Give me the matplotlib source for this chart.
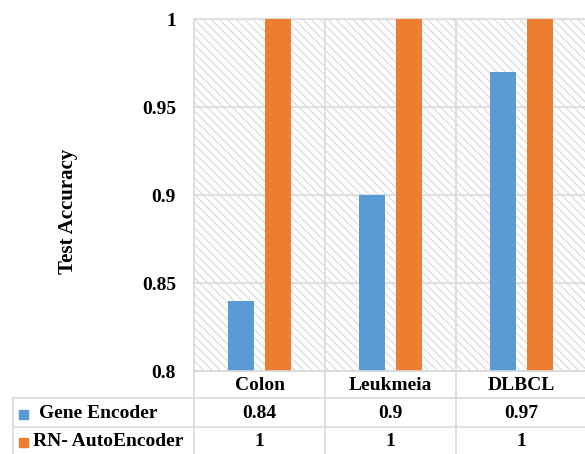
import matplotlib
matplotlib.use('Agg')
import matplotlib.pyplot as plt
import matplotlib.transforms as mtransforms
from matplotlib.lines import Line2D
from matplotlib.patches import Rectangle
import numpy as np

datasets = ['Colon', 'Leukmeia', 'DLBCL']
gene_encoder = [0.84, 0.9, 0.97]
rn_autoencoder = [1, 1, 1]
series_names = ['Gene Encoder', 'RN- AutoEncoder']
y_ticks = [0.8, 0.85, 0.9, 0.95, 1]
y_tick_labels = ['0.8', '0.85', '0.9', '0.95', '1']

blue = '#5B9BD5'
orange = '#ED7D31'
grid = '#D9D9D9'

plt.rcParams['font.family'] = ['Liberation Serif', 'DejaVu Serif']
plt.rcParams['font.weight'] = 'bold'
plt.rcParams['hatch.linewidth'] = 0.7

W, H = 585, 454
fig = plt.figure(figsize=(W / 100, H / 100), dpi=100)


def fx(x):
    return x / W


def fy(y):
    return 1 - y / H


# plot area runs a little past the right edge of the figure
ax = fig.add_axes([fx(194), fy(371), 393 / W, 352 / H])
x = np.arange(len(datasets))
ax.set_xlim(-0.5, len(datasets) - 0.5)
ax.set_ylim(0.8, 1)

# diagonal pattern fill behind the bars
ax.add_patch(Rectangle((0, 0), 1, 1, transform=ax.transAxes, facecolor='white',
                       edgecolor='#d4d4d4', hatch='\\\\\\\\', lw=0, zorder=0))

for yv in y_ticks:
    ax.axhline(yv, color=grid, lw=1.2, zorder=1, clip_on=False)

ax.bar(x - 0.14, gene_encoder, width=0.2, color=blue, zorder=3)
ax.bar(x + 0.14, rn_autoencoder, width=0.2, color=orange, zorder=3)

for s in ax.spines.values():
    s.set_visible(False)
ax.set_xticks([])
ax.set_yticks(y_ticks)
ax.set_yticklabels(y_tick_labels, fontsize=14, fontweight='bold')
ax.tick_params(axis='y', length=0, pad=13)

fig.text(fx(68), fy(211), 'Test Accuracy', rotation=90, ha='center', va='center',
         fontsize=15, fontweight='bold')

# data table under the plot
blend = mtransforms.blended_transform_factory(ax.transData, fig.transFigure)
for xv in np.arange(-0.5, len(datasets), 1.0):
    fig.add_artist(Line2D([xv, xv], [fy(19), 0], transform=blend, color=grid, lw=1.2))
fig.add_artist(Line2D([fx(13), fx(13)], [fy(398), 0], transform=fig.transFigure, color=grid, lw=1.2))
fig.add_artist(Line2D([fx(194), 1], [fy(371), fy(371)], transform=fig.transFigure, color=grid, lw=1.2))
for yr in (398, 427):
    fig.add_artist(Line2D([fx(13), 1], [fy(yr), fy(yr)], transform=fig.transFigure, color=grid, lw=1.2))

for xi, name in zip(x, datasets):
    fig.text(xi, fy(385), name, transform=blend, ha='center', va='center',
             fontsize=14, fontweight='bold')

rows = [(gene_encoder, blue, 414, 39), (rn_autoencoder, orange, 442, 33)]
for (vals, col, yc, tx), label in zip(rows, series_names):
    for xi, v in zip(x, vals):
        fig.text(xi, fy(yc), f'{v:g}', transform=blend, ha='center', va='center',
                 fontsize=14, fontweight='bold')
    fig.add_artist(Rectangle((fx(19), fy(yc + 5)), 9 / W, 9 / H,
                             transform=fig.transFigure, color=col))
    fig.text(fx(tx), fy(yc), label, ha='left', va='center', fontsize=14, fontweight='bold')

fig.savefig('out.png', dpi=100)
